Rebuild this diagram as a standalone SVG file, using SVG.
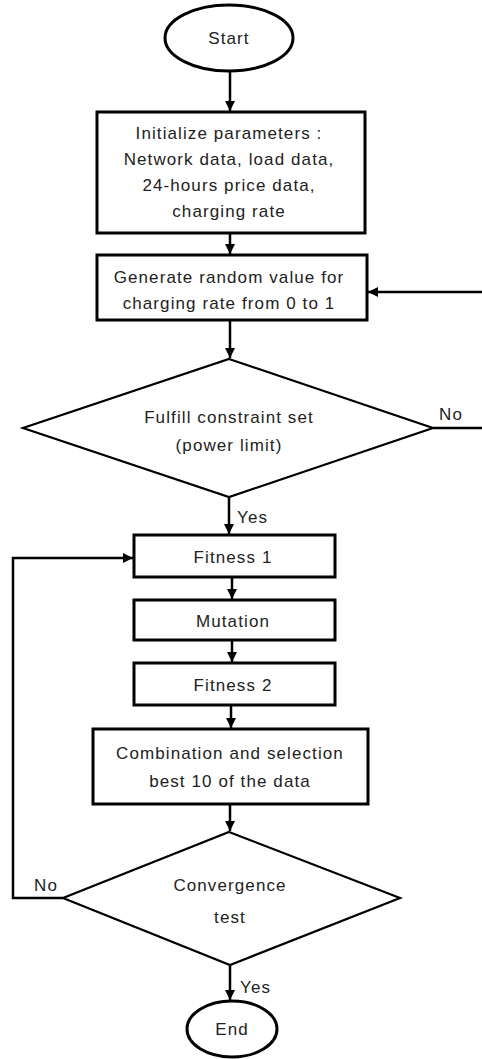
<svg xmlns="http://www.w3.org/2000/svg" width="482" height="1059" viewBox="0 0 482 1059">
<style>
.n{fill:#fff;stroke:#000;stroke-width:3}
.d{fill:#fff;stroke:#000;stroke-width:2.2}
.c{fill:none;stroke:#000;stroke-width:2.5}
text{font-family:"Liberation Sans",Arial,sans-serif;font-size:17px;fill:#222;letter-spacing:1.1px}
.m{text-anchor:middle}
</style>
<defs>
<marker id="ah" viewBox="0 0 10 10" refX="10" refY="5" markerWidth="4" markerHeight="4" orient="auto" markerUnits="strokeWidth">
<path d="M0,0 L10,5 L0,10 z" fill="#000"/>
</marker>
</defs>
<g id="start"><ellipse class="n" cx="229" cy="38" rx="64" ry="33" stroke-width="2.5"/><text class="m" x="229" y="44">Start</text></g>
<g id="init"><rect class="n" x="97" y="112" width="268" height="121"/>
<text class="m" x="229" y="139">Initialize parameters :</text>
<text class="m" x="229" y="165">Network data, load data,</text>
<text class="m" x="229" y="191">24-hours price data,</text>
<text class="m" x="229" y="217">charging rate</text></g>
<g id="generate"><rect class="n" x="97" y="255" width="270" height="65"/>
<text class="m" x="229" y="283">Generate random value for</text>
<text class="m" x="229" y="309">charging rate from 0 to 1</text></g>
<g id="constraint"><polygon class="d" points="229,359 433,428 229,497 23,428"/>
<text class="m" x="229" y="423">Fulfill constraint set</text>
<text class="m" x="229" y="451">(power limit)</text></g>
<g id="fitness1"><rect class="n" x="134" y="535" width="201" height="42"/><text class="m" x="233" y="563">Fitness 1</text></g>
<g id="mutation"><rect class="n" x="134" y="600" width="201" height="40"/><text class="m" x="233" y="627">Mutation</text></g>
<g id="fitness2"><rect class="n" x="134" y="663" width="201" height="42"/><text class="m" x="233" y="691">Fitness 2</text></g>
<g id="combination"><rect class="n" x="93" y="729" width="275" height="75"/>
<text class="m" x="230" y="759">Combination and selection</text>
<text class="m" x="230" y="787">best 10 of the data</text></g>
<g id="convergence"><polygon class="d" points="229,832 400,898 230,965 63,898"/>
<text class="m" x="230" y="891">Convergence</text>
<text class="m" x="230" y="923">test</text></g>
<g id="end"><ellipse class="n" cx="232" cy="1029" rx="45" ry="28" stroke-width="2.5"/><text class="m" x="232" y="1035">End</text></g>
<g id="connectors">
<path class="c" d="M230,72 V111" marker-end="url(#ah)"/>
<path class="c" d="M230,233 V254" marker-end="url(#ah)"/>
<path class="c" d="M230,320 V358" marker-end="url(#ah)"/>
<path class="c" d="M433,428 H482"/>
<path class="c" d="M482,292 H368" marker-end="url(#ah)"/>
<path class="c" d="M229,497 V534" marker-end="url(#ah)"/>
<path class="c" d="M232,577 V599" marker-end="url(#ah)"/>
<path class="c" d="M232,640 V662" marker-end="url(#ah)"/>
<path class="c" d="M231,705 V728" marker-end="url(#ah)"/>
<path class="c" d="M230,804 V831" marker-end="url(#ah)"/>
<path class="c" d="M63,898 H13 V558 H133" marker-end="url(#ah)"/>
<path class="c" d="M230,965 V1000" marker-end="url(#ah)"/>
<text x="439" y="420">No</text>
<text x="237" y="523">Yes</text>
<text x="34" y="891">No</text>
<text x="240" y="993">Yes</text>
</g>
</svg>
